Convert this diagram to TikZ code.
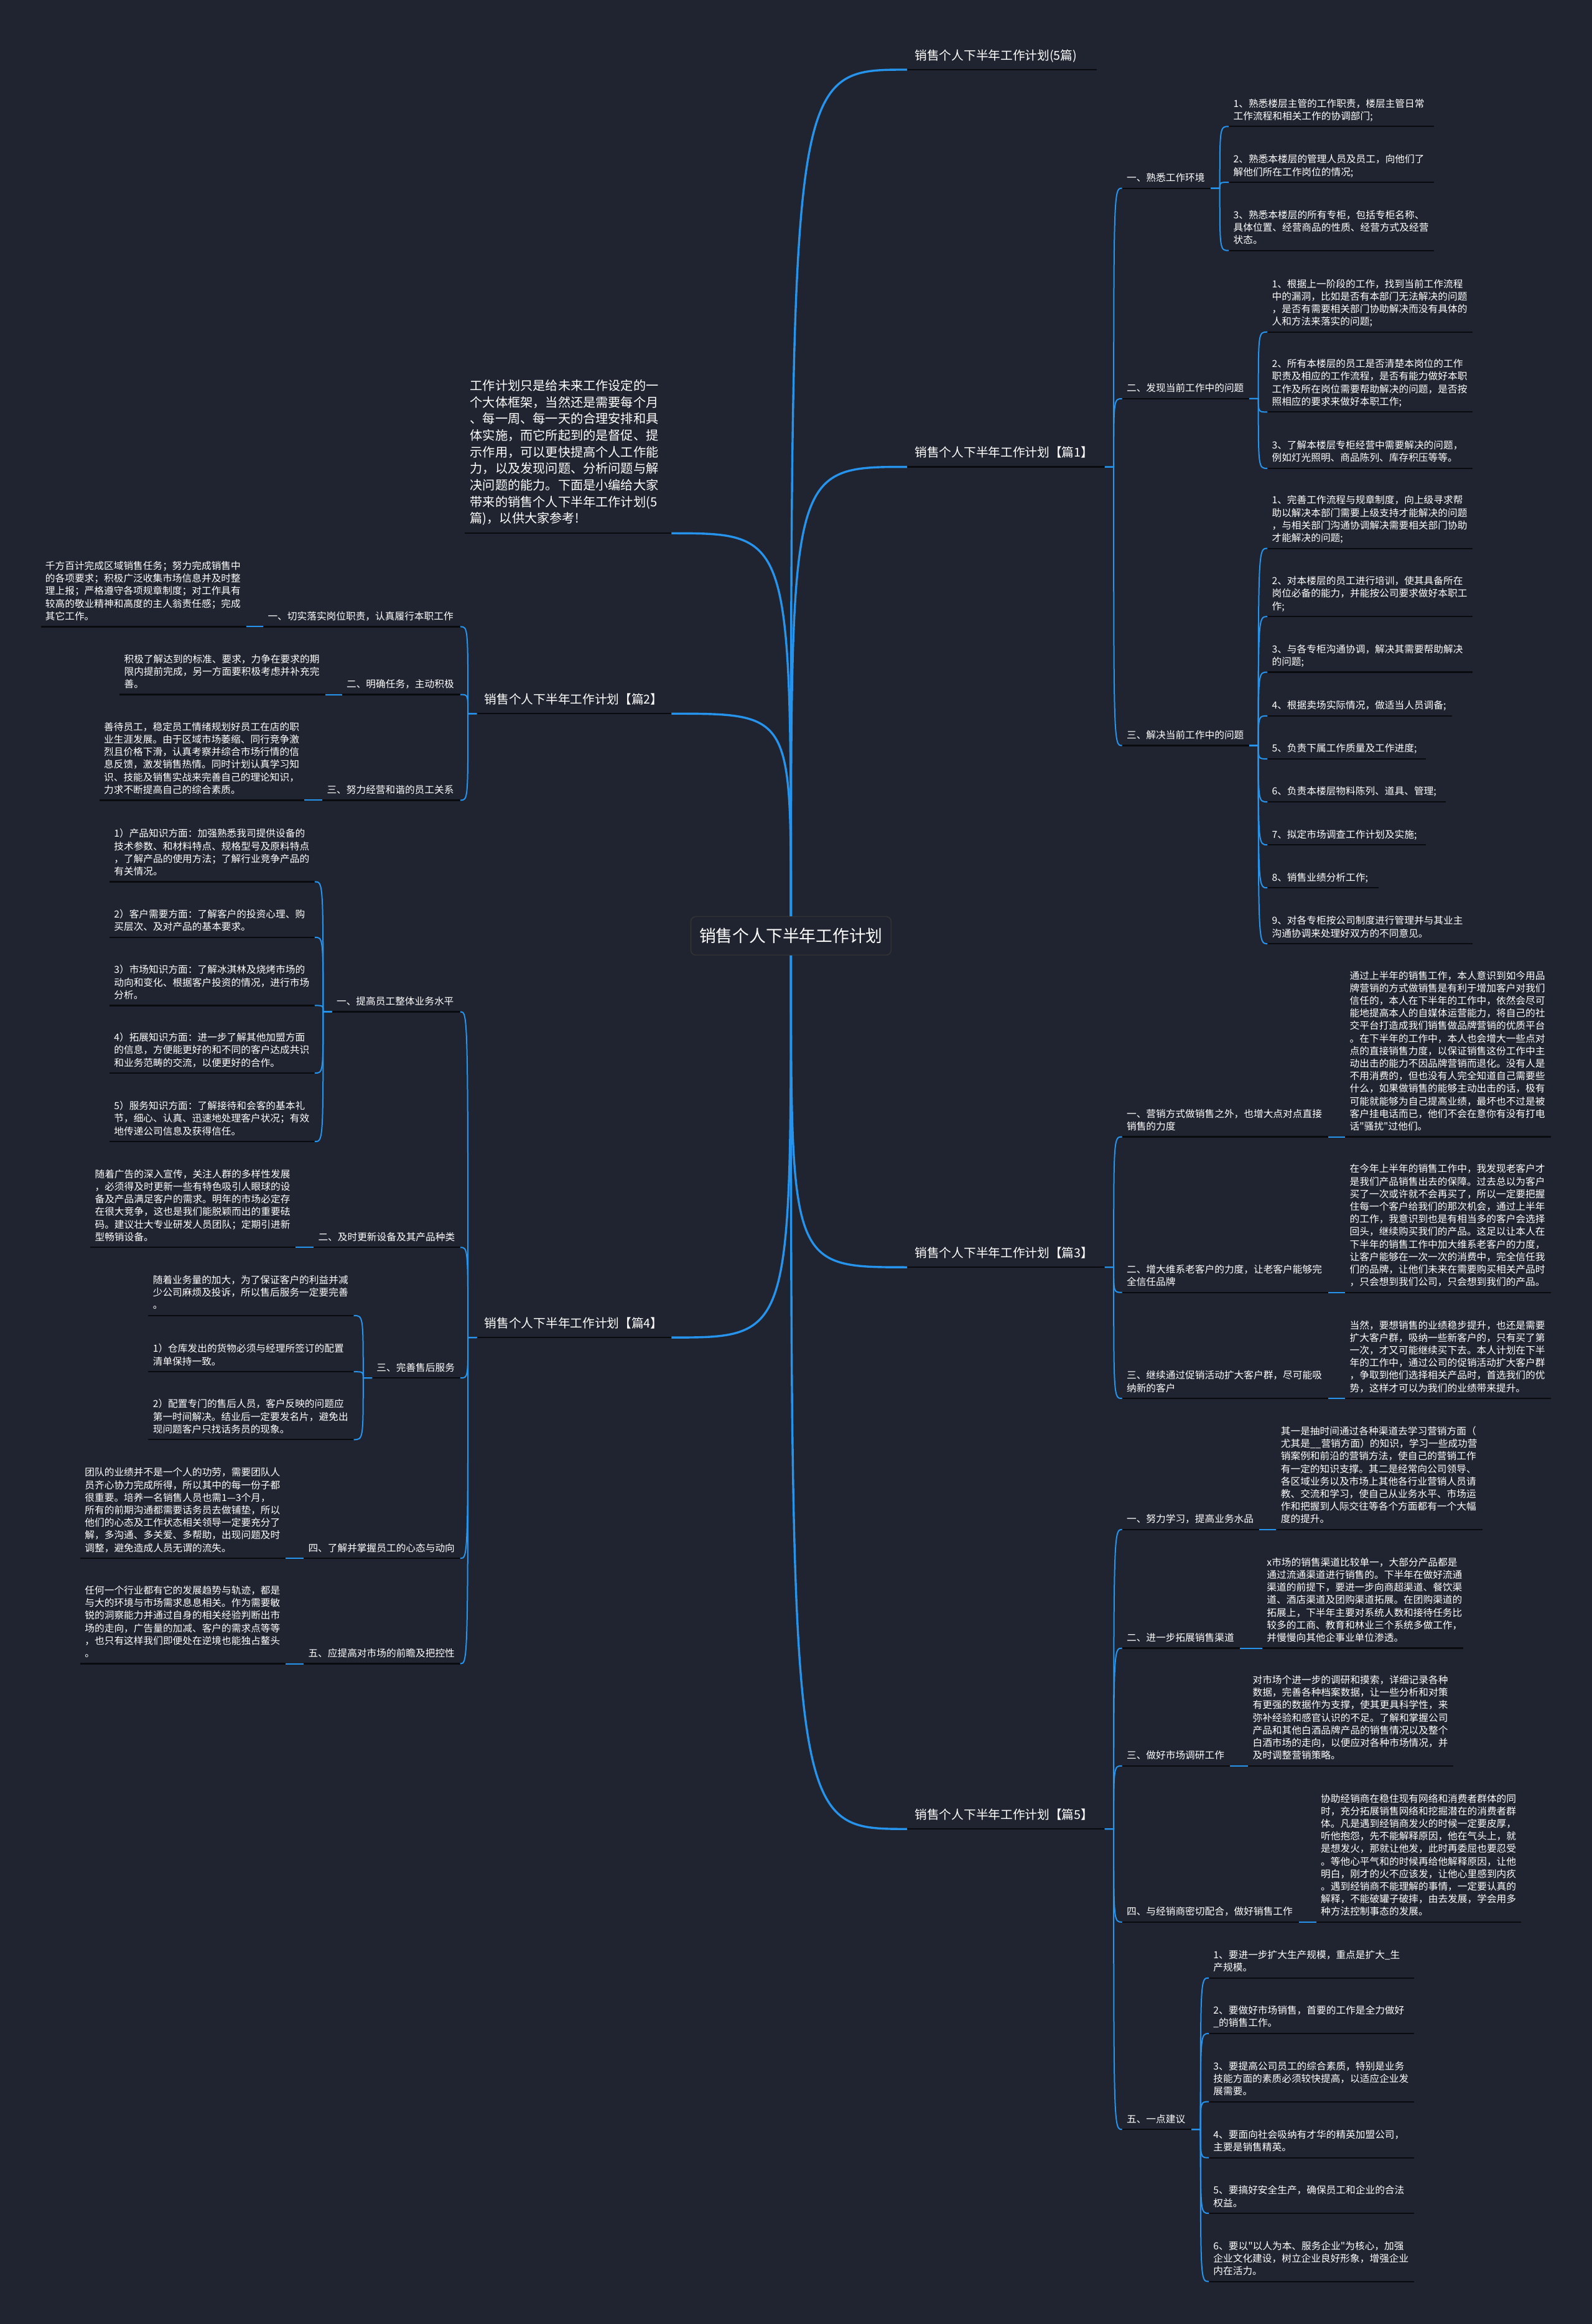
\documentclass[tikz,border=0pt]{standalone}
\usepackage{fontspec}
\setmainfont{Noto Sans CJK SC}[Ligatures=TeXOff]
\usetikzlibrary{calc}

\definecolor{bgc}{RGB}{32,36,48}
\definecolor{linkc}{RGB}{38,148,236}
\definecolor{ulc}{RGB}{10,11,15}

\tikzset{
  leaf/.style={font=\fontsize{7.85}{10.1}\selectfont, text=white, align=left,
    inner xsep=3.5pt, inner ysep=2.3pt, execute at end node=\strut},
  title/.style={font=\fontsize{9.85}{12}\selectfont, text=white, align=left,
    inner xsep=6pt, inner ysep=4.1pt, execute at end node=\strut},
  intro/.style={font=\fontsize{10.1}{13.34}\selectfont, text=white, align=left,
    inner xsep=4pt, inner ysep=4.1pt, execute at end node=\strut},
  rootbox/.style={draw=black!80, line width=0.8pt, fill=bgc, rounded corners=4pt,
    font=\fontsize{13.4}{16}\selectfont, text=white, minimum width=161pt, minimum height=31pt},
  trunk/.style={draw=linkc, line width=1.7pt},
  link/.style={draw=linkc, line width=1pt},
  uline/.style={draw=ulc, line width=1.1pt},
}

% fan of children, right side and left side
\newcommand{\fanR}[2]{%
  \coordinate (#1s) at ($(#1.south east)+(6,0)$);
  \foreach \kid in {#2}
    \draw[link] (#1.south east) -- (#1s) .. controls (#1s |- \kid.south west) .. (\kid.south west);}
\newcommand{\fanL}[2]{%
  \coordinate (#1s) at ($(#1.south west)+(-6,0)$);
  \foreach \kid in {#2}
    \draw[link] (#1.south west) -- (#1s) .. controls (#1s |- \kid.south east) .. (\kid.south east);}

\begin{document}
\begin{tikzpicture}[x=1.1918pt, y=-1.1918pt]
\useasboundingbox (0,0) rectangle (1074,1568);
\fill[bgc] (0,0) rectangle (1074,1568);

% root
\node[rootbox] (root) at (533.6,631.4) {销售个人下半年工作计划};

% main branches
\node[title, text width=140pt, anchor=south west] (p0) at (612,47) {销售个人下半年工作计划(5篇)};
\node[title, text width=146.5pt, anchor=south west] (p1) at (612,315) {销售个人下半年工作计划【篇1】};
\node[title, text width=146.5pt, anchor=south west] (p3) at (612,855) {销售个人下半年工作计划【篇3】};
\node[title, text width=146.5pt, anchor=south west] (p5) at (612,1234) {销售个人下半年工作计划【篇5】};
\node[intro, text width=157.7pt, anchor=south east] (intro) at (453,359.8) {工作计划只是给未来工作设定的一\\个大体框架，当然还是需要每个月\\、每一周、每一天的合理安排和具\\体实施，而它所起到的是督促、提\\示作用，可以更快提高个人工作能\\力，以及发现问题、分析问题与解\\决问题的能力。下面是小编给大家\\带来的销售个人下半年工作计划(5\\篇)，以供大家参考!};
\node[title, text width=144.1pt, anchor=south east] (p2) at (453,481.5) {销售个人下半年工作计划【篇2】};
\node[title, text width=144.1pt, anchor=south east] (p4) at (453,902.4) {销售个人下半年工作计划【篇4】};

% 篇1
\node[leaf, text width=64pt, anchor=south west] (p1a) at (757,127) {一、熟悉工作环境};
\node[leaf, text width=95pt, anchor=south west] (p1b) at (757,269) {二、发现当前工作中的问题};
\node[leaf, text width=95pt, anchor=south west] (p1c) at (757,503) {三、解决当前工作中的问题};
\node[leaf, text width=157.5pt, anchor=south west] (p1a1) at (829,85.3) {1、熟悉楼层主管的工作职责，楼层主管日常\\工作流程和相关工作的协调部门;};
\node[leaf, text width=157.5pt, anchor=south west] (p1a2) at (829,123) {2、熟悉本楼层的管理人员及员工，向他们了\\解他们所在工作岗位的情况;};
\node[leaf, text width=157.5pt, anchor=south west] (p1a3) at (829,169) {3、熟悉本楼层的所有专柜，包括专柜名称、\\具体位置、经营商品的性质、经营方式及经营\\状态。};
\node[leaf, text width=157.5pt, anchor=south west] (p1b1) at (855,224) {1、根据上一阶段的工作，找到当前工作流程\\中的漏洞，比如是否有本部门无法解决的问题\\，是否有需要相关部门协助解决而没有具体的\\人和方法来落实的问题;};
\node[leaf, text width=157.5pt, anchor=south west] (p1b2) at (855,278) {2、所有本楼层的员工是否清楚本岗位的工作\\职责及相应的工作流程，是否有能力做好本职\\工作及所在岗位需要帮助解决的问题，是否按\\照相应的要求来做好本职工作;};
\node[leaf, text width=157.5pt, anchor=south west] (p1b3) at (855,316) {3、了解本楼层专柜经营中需要解决的问题，\\例如灯光照明、商品陈列、库存积压等等。};
\node[leaf, text width=157.5pt, anchor=south west] (p1c1) at (855,370) {1、完善工作流程与规章制度，向上级寻求帮\\助以解决本部门需要上级支持才能解决的问题\\，与相关部门沟通协调解决需要相关部门协助\\才能解决的问题;};
\node[leaf, text width=157.5pt, anchor=south west] (p1c2) at (855,416) {2、对本楼层的员工进行培训，使其具备所在\\岗位必备的能力，并能按公司要求做好本职工\\作;};
\node[leaf, text width=157.5pt, anchor=south west] (p1c3) at (855,453.5) {3、与各专柜沟通协调，解决其需要帮助解决\\的问题;};
\node[leaf, text width=141pt, anchor=south west] (p1c4) at (855,483) {4、根据卖场实际情况，做适当人员调备;};
\node[leaf, text width=120pt, anchor=south west] (p1c5) at (855,512) {5、负责下属工作质量及工作进度;};
\node[leaf, text width=136pt, anchor=south west] (p1c6) at (855,541) {6、负责本楼层物料陈列、道具、管理;};
\node[leaf, text width=120pt, anchor=south west] (p1c7) at (855,570) {7、拟定市场调查工作计划及实施;};
\node[leaf, text width=82pt, anchor=south west] (p1c8) at (855,599) {8、销售业绩分析工作;};
\node[leaf, text width=157.5pt, anchor=south west] (p1c9) at (855,636.7) {9、对各专柜按公司制度进行管理并与其业主\\沟通协调来处理好双方的不同意见。};

% 篇3
\node[leaf, text width=158.3pt, anchor=south west] (p3a) at (757,767) {一、营销方式做销售之外，也增大点对点直接\\销售的力度};
\node[leaf, text width=158pt, anchor=south west] (p3a1) at (907.5,767) {通过上半年的销售工作，本人意识到如今用品\\牌营销的方式做销售是有利于增加客户对我们\\信任的，本人在下半年的工作中，依然会尽可\\能地提高本人的自媒体运营能力，将自己的社\\交平台打造成我们销售做品牌营销的优质平台\\。在下半年的工作中，本人也会增大一些点对\\点的直接销售力度，以保证销售这份工作中主\\动出击的能力不因品牌营销而退化。没有人是\\不用消费的，但也没有人完全知道自己需要些\\什么，如果做销售的能够主动出击的话，极有\\可能就能够为自己提高业绩，最坏也不过是被\\客户挂电话而已，他们不会在意你有没有打电\\话"骚扰"过他们。};
\node[leaf, text width=158.3pt, anchor=south west] (p3b) at (757,872) {二、增大维系老客户的力度，让老客户能够完\\全信任品牌};
\node[leaf, text width=158pt, anchor=south west] (p3b1) at (907.5,872) {在今年上半年的销售工作中，我发现老客户才\\是我们产品销售出去的保障。过去总以为客户\\买了一次或许就不会再买了，所以一定要把握\\住每一个客户给我们的那次机会，通过上半年\\的工作，我意识到也是有相当多的客户会选择\\回头，继续购买我们的产品。这足以让本人在\\下半年的销售工作中加大维系老客户的力度，\\让客户能够在一次一次的消费中，完全信任我\\们的品牌，让他们未来在需要购买相关产品时\\，只会想到我们公司，只会想到我们的产品。};
\node[leaf, text width=158.3pt, anchor=south west] (p3c) at (757,943.5) {三、继续通过促销活动扩大客户群，尽可能吸\\纳新的客户};
\node[leaf, text width=158pt, anchor=south west] (p3c1) at (907.5,943.5) {当然，要想销售的业绩稳步提升，也还是需要\\扩大客户群，吸纳一些新客户的，只有买了第\\一次，才又可能继续买下去。本人计划在下半\\年的工作中，通过公司的促销活动扩大客户群\\，争取到他们选择相关产品时，首选我们的优\\势，这样才可以为我们的业绩带来提升。};

% 篇5
\node[leaf, text width=102.6pt, anchor=south west] (p5a) at (757,1032) {一、努力学习，提高业务水品};
\node[leaf, text width=158.3pt, anchor=south west] (p5a1) at (861,1032) {其一是抽时间通过各种渠道去学习营销方面（\\尤其是\_\_营销方面）的知识，学习一些成功营\\销案例和前沿的营销方法，使自己的营销工作\\有一定的知识支撑。其二是经常向公司领导、\\各区域业务以及市场上其他各行业营销人员请\\教、交流和学习，使自己从业务水平、市场运\\作和把握到人际交往等各个方面都有一个大幅\\度的提升。};
\node[leaf, text width=87.5pt, anchor=south west] (p5b) at (757,1112) {二、进一步拓展销售渠道};
\node[leaf, text width=154pt, anchor=south west] (p5b1) at (851.6,1112) {x市场的销售渠道比较单一，大部分产品都是\\通过流通渠道进行销售的。下半年在做好流通\\渠道的前提下，要进一步向商超渠道、餐饮渠\\道、酒店渠道及团购渠道拓展。在团购渠道的\\拓展上，下半年主要对系统人数和接待任务比\\较多的工商、教育和林业三个系统多做工作，\\并慢慢向其他企事业单位渗透。};
\node[leaf, text width=79.5pt, anchor=south west] (p5c) at (757,1191.4) {三、做好市场调研工作};
\node[leaf, text width=157.5pt, anchor=south west] (p5c1) at (842,1191.4) {对市场个进一步的调研和摸索，详细记录各种\\数据，完善各种档案数据，让一些分析和对策\\有更强的数据作为支撑，使其更具科学性，来\\弥补经验和感官认识的不足。了解和掌握公司\\产品和其他白酒品牌产品的销售情况以及整个\\白酒市场的走向，以便应对各种市场情况，并\\及时调整营销策略。};
\node[leaf, text width=134.8pt, anchor=south west] (p5d) at (757,1296.8) {四、与经销商密切配合，做好销售工作};
\node[leaf, text width=157.5pt, anchor=south west] (p5d1) at (888,1296.8) {协助经销商在稳住现有网络和消费者群体的同\\时，充分拓展销售网络和挖掘潜在的消费者群\\体。凡是遇到经销商发火的时候一定要皮厚，\\听他抱怨，先不能解释原因，他在气头上，就\\是想发火，那就让他发，此时再委屈也要忍受\\。等他心平气和的时候再给他解释原因，让他\\明白，刚才的火不应该发，让他心里感到内疚\\。遇到经销商不能理解的事情，一定要认真的\\解释，不能破罐子破摔，由去发展，学会用多\\种方法控制事态的发展。};
\node[leaf, text width=48.5pt, anchor=south west] (p5e) at (757,1436.7) {五、一点建议};
\node[leaf, text width=157.5pt, anchor=south west] (p5e1) at (815.5,1334.5) {1、要进一步扩大生产规模，重点是扩大\_生\\产规模。};
\node[leaf, text width=157.5pt, anchor=south west] (p5e2) at (815.5,1372) {2、要做好市场销售，首要的工作是全力做好\\\_的销售工作。};
\node[leaf, text width=157.5pt, anchor=south west] (p5e3) at (815.5,1418) {3、要提高公司员工的综合素质，特别是业务\\技能方面的素质必须较快提高，以适应企业发\\展需要。};
\node[leaf, text width=157.5pt, anchor=south west] (p5e4) at (815.5,1455.8) {4、要面向社会吸纳有才华的精英加盟公司，\\主要是销售精英。};
\node[leaf, text width=157.5pt, anchor=south west] (p5e5) at (815.5,1493.3) {5、要搞好安全生产，确保员工和企业的合法\\权益。};
\node[leaf, text width=157.5pt, anchor=south west] (p5e6) at (815.5,1539.3) {6、要以"以人为本、服务企业"为核心，加强\\企业文化建设，树立企业良好形象，增强企业\\内在活力。};

% 篇2
\node[leaf, text width=151pt, anchor=south east] (p2a) at (310.5,422.8) {一、切实落实岗位职责，认真履行本职工作};
\node[leaf, text width=158pt, anchor=south east] (p2a1) at (166.3,422.8) {千方百计完成区域销售任务；努力完成销售中\\的各项要求；积极广泛收集市场信息并及时整\\理上报；严格遵守各项规章制度；对工作具有\\较高的敬业精神和高度的主人翁责任感；完成\\其它工作。};
\node[leaf, text width=87.7pt, anchor=south east] (p2b) at (310.5,468.6) {二、明确任务，主动积极};
\node[leaf, text width=157.8pt, anchor=south east] (p2b1) at (219.3,468.6) {积极了解达到的标准、要求，力争在要求的期\\限内提前完成，另一方面要积极考虑并补充完\\善。};
\node[leaf, text width=103.5pt, anchor=south east] (p2c) at (310.5,539.9) {三、努力经营和谐的员工关系};
\node[leaf, text width=157.5pt, anchor=south east] (p2c1) at (205.4,539.9) {善待员工，稳定员工情绪规划好员工在店的职\\业生涯发展。由于区域市场萎缩、同行竞争激\\烈且价格下滑，认真考察并综合市场行情的信\\息反馈，激发销售热情。同时计划认真学习知\\识、技能及销售实战来完善自己的理论知识，\\力求不断提高自己的综合素质。};

% 篇4
\node[leaf, text width=95.7pt, anchor=south east] (p4a) at (310.5,682.6) {一、提高员工整体业务水平};
\node[leaf, text width=157.6pt, anchor=south east] (p4a1) at (212.3,594.9) {1）产品知识方面：加强熟悉我司提供设备的\\技术参数、和材料特点、规格型号及原料特点\\，了解产品的使用方法；了解行业竞争产品的\\有关情况。};
\node[leaf, text width=157.6pt, anchor=south east] (p4a2) at (212.3,632.4) {2）客户需要方面：了解客户的投资心理、购\\买层次、及对产品的基本要求。};
\node[leaf, text width=157.6pt, anchor=south east] (p4a3) at (212.3,678.4) {3）市场知识方面：了解冰淇林及烧烤市场的\\动向和变化、根据客户投资的情况，进行市场\\分析。};
\node[leaf, text width=157.6pt, anchor=south east] (p4a4) at (212.3,724) {4）拓展知识方面：进一步了解其他加盟方面\\的信息，方便能更好的和不同的客户达成共识\\和业务范畴的交流，以便更好的合作。};
\node[leaf, text width=157.6pt, anchor=south east] (p4a5) at (212.3,770.2) {5）服务知识方面：了解接待和会客的基本礼\\节，细心、认真、迅速地处理客户状况；有效\\地传递公司信息及获得信任。};
\node[leaf, text width=110.5pt, anchor=south east] (p4b) at (310.5,841.6) {二、及时更新设备及其产品种类};
\node[leaf, text width=157.5pt, anchor=south east] (p4b1) at (199.3,841.6) {随着广告的深入宣传，关注人群的多样性发展\\，必须得及时更新一些有特色吸引人眼球的设\\备及产品满足客户的需求。明年的市场必定存\\在很大竞争，这也是我们能脱颖而出的重要砝\\码。建议壮大专业研发人员团队；定期引进新\\型畅销设备。};
\node[leaf, text width=63.5pt, anchor=south east] (p4c) at (310.5,929.7) {三、完善售后服务};
\node[leaf, text width=157.7pt, anchor=south east] (p4c1) at (238.6,887.6) {随着业务量的加大，为了保证客户的利益并减\\少公司麻烦及投诉，所以售后服务一定要完善\\。};
\node[leaf, text width=157.7pt, anchor=south east] (p4c2) at (238.6,925.5) {1）仓库发出的货物必须与经理所签订的配置\\清单保持一致。};
\node[leaf, text width=157.7pt, anchor=south east] (p4c3) at (238.6,971.3) {2）配置专门的售后人员，客户反映的问题应\\第一时间解决。结业后一定要发名片，避免出\\现问题客户只找话务员的现象。};
\node[leaf, text width=118.5pt, anchor=south east] (p4d) at (310.5,1051.4) {四、了解并掌握员工的心态与动向};
\node[leaf, text width=157.7pt, anchor=south east] (p4d1) at (192.7,1051.4) {团队的业绩并不是一个人的功劳，需要团队人\\员齐心协力完成所得，所以其中的每一份子都\\很重要。培养一名销售人员也需1—3个月，\\所有的前期沟通都需要话务员去做铺垫，所以\\他们的心态及工作状态相关领导一定要充分了\\解，多沟通、多关爱、多帮助，出现问题及时\\调整，避免造成人员无谓的流失。};
\node[leaf, text width=118.5pt, anchor=south east] (p4e) at (310.5,1122.5) {五、应提高对市场的前瞻及把控性};
\node[leaf, text width=157.7pt, anchor=south east] (p4e1) at (192.7,1122.5) {任何一个行业都有它的发展趋势与轨迹，都是\\与大的环境与市场需求息息相关。作为需要敏\\锐的洞察能力并通过自身的相关经验判断出市\\场的走向，广告量的加减、客户的需求点等等\\，也只有这样我们即便处在逆境也能独占鳌头\\。};

% underlines
\foreach \n in {p0,p1,p3,p5,intro,p2,p4,
  p1a,p1b,p1c,p1a1,p1a2,p1a3,p1b1,p1b2,p1b3,p1c1,p1c2,p1c3,p1c4,p1c5,p1c6,p1c7,p1c8,p1c9,
  p3a,p3a1,p3b,p3b1,p3c,p3c1,
  p5a,p5a1,p5b,p5b1,p5c,p5c1,p5d,p5d1,p5e,p5e1,p5e2,p5e3,p5e4,p5e5,p5e6,
  p2a,p2a1,p2b,p2b1,p2c,p2c1,
  p4a,p4a1,p4a2,p4a3,p4a4,p4a5,p4b,p4b1,p4c,p4c1,p4c2,p4c3,p4d,p4d1,p4e,p4e1}
  \draw[uline] (\n.south west) -- (\n.south east);

% trunks from the root
\foreach \n in {p0,p1}
  \draw[trunk] (root.north) .. controls (root.north |- \n.south west) .. (\n.south west);
\foreach \n in {p3,p5}
  \draw[trunk] (root.south) .. controls (root.south |- \n.south west) .. (\n.south west);
\foreach \n in {intro,p2}
  \draw[trunk] (root.north) .. controls (root.north |- \n.south east) .. (\n.south east);
\draw[trunk] (root.south) .. controls (root.south |- p4.south east) .. (p4.south east);

% fans
\fanR{p1}{p1a,p1b,p1c}
\fanR{p1a}{p1a1,p1a2,p1a3}
\fanR{p1b}{p1b1,p1b2,p1b3}
\fanR{p1c}{p1c1,p1c2,p1c3,p1c4,p1c5,p1c6,p1c7,p1c8,p1c9}
\fanR{p3}{p3a,p3b,p3c}
\fanR{p5}{p5a,p5b,p5c,p5d,p5e}
\fanR{p5e}{p5e1,p5e2,p5e3,p5e4,p5e5,p5e6}
\fanL{p2}{p2a,p2b,p2c}
\fanL{p4}{p4a,p4b,p4c,p4d,p4e}
\fanL{p4a}{p4a1,p4a2,p4a3,p4a4,p4a5}
\fanL{p4c}{p4c1,p4c2,p4c3}

% stubs to the leaves on the same row
\foreach \a/\b in {p3a/p3a1,p3b/p3b1,p3c/p3c1,p5a/p5a1,p5b/p5b1,p5c/p5c1,p5d/p5d1}
  \draw[link] (\a.south east) -- (\b.south west);
\foreach \a/\b in {p2a/p2a1,p2b/p2b1,p2c/p2c1,p4b/p4b1,p4d/p4d1,p4e/p4e1}
  \draw[link] (\a.south west) -- (\b.south east);
\end{tikzpicture}
\end{document}
